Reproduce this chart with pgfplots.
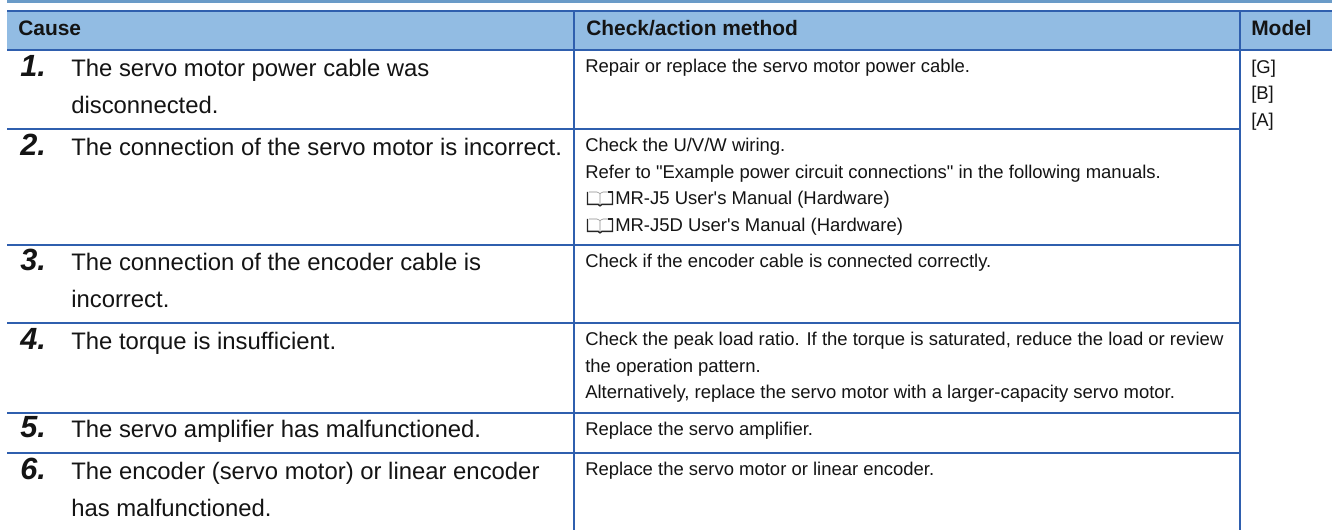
\documentclass[border=0pt]{standalone}
\usepackage{pgfplots}
\pgfplotsset{compat=1.18}
\usepackage{fontspec}
\setmainfont{Liberation Sans}[Ligatures=TeXOff]
\definecolor{rule}{HTML}{2F5FAE}
\definecolor{head}{HTML}{92BCE3}
\definecolor{band}{HTML}{6A9BC8}
\newcommand{\bsz}{\fontsize{17.9}{20}\selectfont}
\newcommand{\ssz}{\fontsize{13.85}{16}\selectfont}
\newcommand{\hsz}{\fontsize{15.7}{18}\selectfont\bfseries}
\newcommand{\nsz}{\fontsize{23}{26}\selectfont\bfseries\itshape}
\newcommand{\T}[3]{\node[anchor=base west,inner sep=0pt,text=black!92] at (axis cs:#1,#2) {#3};}
\newcommand{\book}[2]{%
 \draw[black!85,line width=1.1pt] (axis cs:#1+1.5,#2-13) -- (axis cs:#1+1.5,#2-0.7) -- (axis cs:#1+12,#2-0.7) -- (axis cs:#1+14,#2+0.8) -- (axis cs:#1+16,#2-0.7) -- (axis cs:#1+26.5,#2-0.7) -- (axis cs:#1+26.5,#2-13);
 \draw[black!85,line width=0.8pt] (axis cs:#1+22,#2-13) -- (axis cs:#1+26.5,#2-13);
 \draw[black!45,line width=0.45pt] (axis cs:#1+3,#2-13) -- (axis cs:#1+11,#2-13) -- (axis cs:#1+14,#2-11.5) -- (axis cs:#1+14,#2-1) (axis cs:#1+22,#2-13) -- (axis cs:#1+17,#2-13) -- (axis cs:#1+14,#2-11.5);
}
\begin{document}
\begin{tikzpicture}
\begin{axis}[x=0.75pt,y=-0.75pt,xmin=0,xmax=1332,ymin=0,ymax=530,hide axis,clip=true,scale only axis]
\addplot[draw=none,fill=white] coordinates {(0,0)(1332,0)(1332,530)(0,530)} -- cycle;
\addplot[draw=none,fill=band] coordinates {(7,0)(1332,0)(1332,3)(7,3)} -- cycle;
\addplot[draw=none,fill=head] coordinates {(7,11)(1332,11)(1332,50)(7,50)} -- cycle;
\addplot[rule,line width=1.5pt] coordinates {(7,11)(1332,11)};
\addplot[rule,line width=1.5pt] coordinates {(7,50)(1332,50)};
\addplot[rule,line width=1.5pt] coordinates {(7,129)(1240,129)};
\addplot[rule,line width=1.5pt] coordinates {(7,245)(1240,245)};
\addplot[rule,line width=1.5pt] coordinates {(7,323)(1240,323)};
\addplot[rule,line width=1.5pt] coordinates {(7,413)(1240,413)};
\addplot[rule,line width=1.5pt] coordinates {(7,453)(1240,453)};
\addplot[rule,line width=1.5pt] coordinates {(574,11)(574,530)};
\addplot[rule,line width=1.5pt] coordinates {(1240,11)(1240,530)};
% header
\T{18}{36}{\hsz Cause}
\T{586}{36}{\hsz Check/action method}
\T{1251}{36}{\hsz Model}
% numbers
\T{20}{77}{\nsz 1.}
\T{20}{156}{\nsz 2.}
\T{20}{271}{\nsz 3.}
\T{20}{350}{\nsz 4.}
\T{20}{438}{\nsz 5.}
\T{20}{480}{\nsz 6.}
% cause
\T{71}{77}{\bsz The servo motor power cable was}
\T{71}{114}{\bsz disconnected.}
\T{71}{156}{\bsz The connection of the servo motor is incorrect.}
\T{71}{271}{\bsz The connection of the encoder cable is}
\T{71}{308}{\bsz incorrect.}
\T{71}{350}{\bsz The torque is insufficient.}
\T{71}{438}{\bsz The servo amplifier has malfunctioned.}
\T{71}{480}{\bsz The encoder (servo motor) or linear encoder}
\T{71}{517}{\bsz has malfunctioned.}
% action
\T{585}{73}{\ssz Repair or replace the servo motor power cable.}
\T{585}{152}{\ssz Check the U/V/W wiring.}
\T{585}{179}{\ssz Refer to "Example power circuit connections" in the following manuals.}
\book{586}{205}
\T{615}{205}{\ssz MR-J5 User's Manual (Hardware)}
\book{586}{232}
\T{615}{232}{\ssz MR-J5D User's Manual (Hardware)}
\T{585}{268}{\ssz Check if the encoder cable is connected correctly.}
\T{585}{346}{\ssz Check the peak load ratio. If the torque is saturated, reduce the load or review}
\T{585}{373}{\ssz the operation pattern.}
\T{585}{399}{\ssz Alternatively, replace the servo motor with a larger-capacity servo motor.}
\T{585}{436}{\ssz Replace the servo amplifier.}
\T{585}{476}{\ssz Replace the servo motor or linear encoder.}
% model
\T{1251}{74}{\ssz [G]}
\T{1251}{100}{\ssz [B]}
\T{1251}{127}{\ssz [A]}
\end{axis}
\end{tikzpicture}
\end{document}
